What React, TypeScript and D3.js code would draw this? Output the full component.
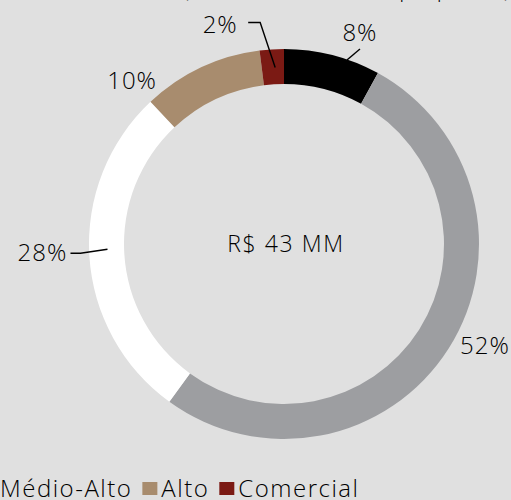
import React, { useRef, useEffect } from "react";
import * as d3 from "d3";

// data
const categories = ["Econômico", "Médio", "Médio-Alto", "Alto", "Comercial"];
const shares = [8, 52, 28, 10, 2];
const colors = ["#000000", "#9d9ea1", "#ffffff", "#a88c6e", "#7b1a14"];
const centerLabel = "R$ 43 MM";
const title = "(Valor Geral de Vendas por padrão)";

const W = 511;
const H = 500;
const FONT = "'Open Sans', 'DejaVu Sans', sans-serif";

// label placement per slice: radius along the slice's mid angle + nudge
const labelPos = [
  { r: 225, dx: 20, dy: 6 },
  { r: 225, dx: 11, dy: -20 },
  { r: 242, dx: 0, dy: -7 },
  { r: 190, dx: -71, dy: 8 },
  { r: 220, dx: -50, dy: 0 },
];
// leader lines, relative to the label centre
const leaders: ([number, number][] | null)[] = [
  [[0, 17], [-13, 28]],
  null,
  [[28, 1], [38, 1], [65, -3]],
  null,
  [[28, -2], [40, -2], [55, 43]],
];

const App = () => {
  const svgRef = useRef<SVGSVGElement>(null);

  useEffect(() => {
    const svg = d3.select(svgRef.current);
    svg.selectAll("*").remove();

    const cx = 284;
    const cy = 244;
    const outerR = 195;
    const innerR = 160;

    const pie = d3.pie<number>().sort(null).value((d) => d);
    const arcs = pie(shares);
    const arc = d3.arc<d3.PieArcDatum<number>>().innerRadius(innerR).outerRadius(outerR);

    // title, cut at the top of the frame
    svg
      .append("text")
      .attr("x", 183)
      .attr("y", -3)
      .attr("textLength", 327)
      .attr("font-family", FONT)
      .attr("font-size", 22)
      .attr("font-weight", 300)
      .attr("fill", "#000")
      .text(title);

    const g = svg.append("g").attr("transform", `translate(${cx},${cy})`);
    g.selectAll(".slice")
      .data(arcs)
      .join("path")
      .attr("class", "slice")
      .attr("d", arc)
      .attr("fill", (d, i) => colors[i]);

    g.append("text")
      .attr("x", 2)
      .attr("y", 8)
      .attr("text-anchor", "middle")
      .attr("font-family", FONT)
      .attr("font-size", 23)
      .attr("font-weight", 300)
      .attr("letter-spacing", 1.6)
      .attr("fill", "#000")
      .text(centerLabel);

    const line = d3.line();
    arcs.forEach((d, i) => {
      const a = (d.startAngle + d.endAngle) / 2;
      const p = labelPos[i];
      const lx = Math.sin(a) * p.r + p.dx;
      const ly = -Math.cos(a) * p.r + p.dy;
      g.append("text")
        .attr("x", lx)
        .attr("y", ly + 9)
        .attr("text-anchor", "middle")
        .attr("font-family", FONT)
        .attr("font-size", 24)
        .attr("font-weight", 300)
        .attr("letter-spacing", 1)
        .attr("fill", "#000")
        .text(`${shares[i]}%`);
      const ld = leaders[i];
      if (ld) {
        g.append("path")
          .attr("d", line(ld.map(([x, y]) => [lx + x, ly + y] as [number, number])))
          .attr("stroke", "#000")
          .attr("stroke-width", 1.4)
          .attr("fill", "none");
      }
    });

    // legend, laid out left to right, "Médio-Alto" text starts at x = 0
    const legend = svg.append("g");
    const starts: number[] = [];
    let x = 0;
    const sq = 15;
    categories.forEach((c, i) => {
      legend
        .append("rect")
        .attr("x", x)
        .attr("y", 482)
        .attr("width", sq)
        .attr("height", 13)
        .attr("fill", colors[i]);
      const tx = x + sq + 4;
      const t = legend
        .append("text")
        .attr("x", tx)
        .attr("y", 497)
        .attr("font-family", FONT)
        .attr("font-size", 24)
        .attr("font-weight", 300)
        .attr("letter-spacing", 1.5)
        .attr("fill", "#000")
        .text(c);
      const w = (t.node() as SVGTextElement).getComputedTextLength();
      starts.push(tx);
      x = tx + w + 10;
    });
    legend.attr("transform", `translate(${-starts[2]},0)`);
  }, []);

  return (
    <svg
      ref={svgRef}
      width={W}
      height={H}
      style={{ position: "absolute", left: 0, top: 0, background: "#e0e0e0" }}
    />
  );
};

export default App;
